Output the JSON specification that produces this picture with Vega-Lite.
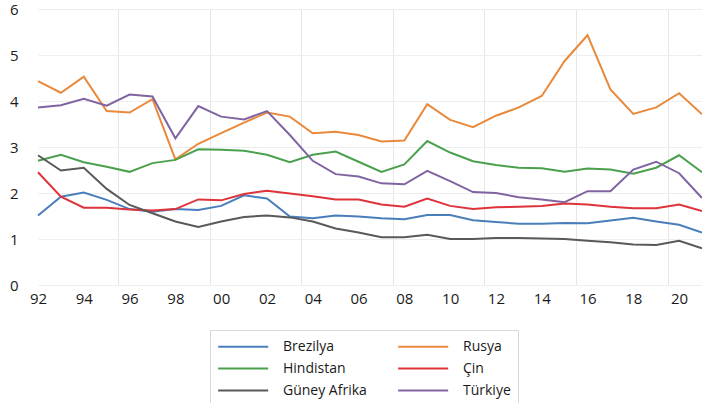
{
  "$schema": "https://vega.github.io/schema/vega-lite/v6.json",
  "autosize": "none",
  "width": 664,
  "height": 276,
  "padding": {"left": 38, "top": 9, "right": 0, "bottom": 118},
  "background": "white",
  "config": {
    "view": {"stroke": null},
    "font": "Open Sans"
  },
  "data": {
    "values": [
      {"yil": 1992, "Brezilya": 1.51, "Rusya": 4.43, "Hindistan": 2.70, "Çin": 2.45, "Güney Afrika": 2.82, "Türkiye": 3.86},
      {"yil": 1993, "Brezilya": 1.92, "Rusya": 4.18, "Hindistan": 2.83, "Çin": 1.92, "Güney Afrika": 2.49, "Türkiye": 3.91},
      {"yil": 1994, "Brezilya": 2.01, "Rusya": 4.53, "Hindistan": 2.67, "Çin": 1.68, "Güney Afrika": 2.55, "Türkiye": 4.05},
      {"yil": 1995, "Brezilya": 1.85, "Rusya": 3.78, "Hindistan": 2.57, "Çin": 1.68, "Güney Afrika": 2.09, "Türkiye": 3.90},
      {"yil": 1996, "Brezilya": 1.65, "Rusya": 3.75, "Hindistan": 2.46, "Çin": 1.64, "Güney Afrika": 1.74, "Türkiye": 4.14},
      {"yil": 1997, "Brezilya": 1.59, "Rusya": 4.04, "Hindistan": 2.65, "Çin": 1.62, "Güney Afrika": 1.56, "Türkiye": 4.10},
      {"yil": 1998, "Brezilya": 1.65, "Rusya": 2.73, "Hindistan": 2.72, "Çin": 1.65, "Güney Afrika": 1.38, "Türkiye": 3.19},
      {"yil": 1999, "Brezilya": 1.63, "Rusya": 3.07, "Hindistan": 2.95, "Çin": 1.86, "Güney Afrika": 1.26, "Türkiye": 3.89},
      {"yil": 2000, "Brezilya": 1.72, "Rusya": 3.30, "Hindistan": 2.94, "Çin": 1.84, "Güney Afrika": 1.38, "Türkiye": 3.66},
      {"yil": 2001, "Brezilya": 1.95, "Rusya": 3.53, "Hindistan": 2.92, "Çin": 1.98, "Güney Afrika": 1.48, "Türkiye": 3.60},
      {"yil": 2002, "Brezilya": 1.88, "Rusya": 3.75, "Hindistan": 2.83, "Çin": 2.05, "Güney Afrika": 1.51, "Türkiye": 3.78},
      {"yil": 2003, "Brezilya": 1.49, "Rusya": 3.66, "Hindistan": 2.67, "Çin": 1.99, "Güney Afrika": 1.47, "Türkiye": 3.26},
      {"yil": 2004, "Brezilya": 1.45, "Rusya": 3.30, "Hindistan": 2.83, "Çin": 1.93, "Güney Afrika": 1.38, "Türkiye": 2.70},
      {"yil": 2005, "Brezilya": 1.51, "Rusya": 3.33, "Hindistan": 2.90, "Çin": 1.86, "Güney Afrika": 1.23, "Türkiye": 2.41},
      {"yil": 2006, "Brezilya": 1.49, "Rusya": 3.26, "Hindistan": 2.68, "Çin": 1.86, "Güney Afrika": 1.14, "Türkiye": 2.36},
      {"yil": 2007, "Brezilya": 1.45, "Rusya": 3.12, "Hindistan": 2.46, "Çin": 1.75, "Güney Afrika": 1.04, "Türkiye": 2.21},
      {"yil": 2008, "Brezilya": 1.43, "Rusya": 3.14, "Hindistan": 2.62, "Çin": 1.70, "Güney Afrika": 1.04, "Türkiye": 2.19},
      {"yil": 2009, "Brezilya": 1.52, "Rusya": 3.93, "Hindistan": 3.13, "Çin": 1.88, "Güney Afrika": 1.09, "Türkiye": 2.48},
      {"yil": 2010, "Brezilya": 1.52, "Rusya": 3.59, "Hindistan": 2.88, "Çin": 1.72, "Güney Afrika": 1.00, "Türkiye": 2.26},
      {"yil": 2011, "Brezilya": 1.41, "Rusya": 3.43, "Hindistan": 2.69, "Çin": 1.65, "Güney Afrika": 1.00, "Türkiye": 2.02},
      {"yil": 2012, "Brezilya": 1.37, "Rusya": 3.68, "Hindistan": 2.61, "Çin": 1.69, "Güney Afrika": 1.02, "Türkiye": 2.00},
      {"yil": 2013, "Brezilya": 1.33, "Rusya": 3.86, "Hindistan": 2.55, "Çin": 1.70, "Güney Afrika": 1.02, "Türkiye": 1.91},
      {"yil": 2014, "Brezilya": 1.33, "Rusya": 4.11, "Hindistan": 2.54, "Çin": 1.72, "Güney Afrika": 1.01, "Türkiye": 1.86},
      {"yil": 2015, "Brezilya": 1.35, "Rusya": 4.87, "Hindistan": 2.46, "Çin": 1.77, "Güney Afrika": 1.00, "Türkiye": 1.80},
      {"yil": 2016, "Brezilya": 1.34, "Rusya": 5.43, "Hindistan": 2.53, "Çin": 1.75, "Güney Afrika": 0.96, "Türkiye": 2.04},
      {"yil": 2017, "Brezilya": 1.40, "Rusya": 4.25, "Hindistan": 2.51, "Çin": 1.70, "Güney Afrika": 0.93, "Türkiye": 2.04},
      {"yil": 2018, "Brezilya": 1.46, "Rusya": 3.72, "Hindistan": 2.42, "Çin": 1.67, "Güney Afrika": 0.88, "Türkiye": 2.51},
      {"yil": 2019, "Brezilya": 1.38, "Rusya": 3.86, "Hindistan": 2.55, "Çin": 1.67, "Güney Afrika": 0.87, "Türkiye": 2.68},
      {"yil": 2020, "Brezilya": 1.31, "Rusya": 4.17, "Hindistan": 2.82, "Çin": 1.75, "Güney Afrika": 0.96, "Türkiye": 2.43},
      {"yil": 2021, "Brezilya": 1.14, "Rusya": 3.71, "Hindistan": 2.45, "Çin": 1.61, "Güney Afrika": 0.80, "Türkiye": 1.89}
    ]
  },
  "transform": [
    {"fold": ["Brezilya", "Rusya", "Hindistan", "Çin", "Güney Afrika", "Türkiye"], "as": ["ulke", "deger"]}
  ],
  "mark": {"type": "line", "strokeWidth": 2, "clip": false},
  "encoding": {
    "x": {
      "field": "yil",
      "type": "quantitative",
      "scale": {"domain": [1992, 2021], "nice": false, "zero": false},
      "axis": {
        "title": null,
        "values": [1992, 1994, 1995.5, 1996, 1998, 1999.5, 2000, 2002, 2003.5, 2004, 2006, 2007.5, 2008, 2010, 2011.5, 2012, 2014, 2015.5, 2016, 2018, 2019.5, 2020],
        "labelExpr": "datum.value % 2 == 0 ? slice(toString(datum.value), 2) : ''",
        "domain": false,
        "ticks": false,
        "grid": true,
        "gridColor": "#E6E6E6",
        "gridOpacity": {"condition": {"test": "datum.value % 1 != 0", "value": 1}, "value": 0},
        "labelFontSize": 15,
        "labelColor": "#1a1a1a",
        "labelPadding": 6,
        "labelFlush": false
      }
    },
    "y": {
      "field": "deger",
      "type": "quantitative",
      "scale": {"domain": [0, 6], "nice": false},
      "axis": {
        "title": null,
        "values": [0, 1, 2, 3, 4, 5, 6],
        "domain": false,
        "ticks": false,
        "gridColor": "#EEEEEE",
        "labelFontSize": 15,
        "labelColor": "#1a1a1a",
        "labelPadding": 20
      }
    },
    "color": {
      "field": "ulke",
      "type": "nominal",
      "scale": {
        "domain": ["Brezilya", "Rusya", "Hindistan", "Çin", "Güney Afrika", "Türkiye"],
        "range": ["#4A7EBB", "#E8893B", "#4BA04E", "#DE333B", "#595959", "#8064A2"]
      },
      "legend": {
        "title": null,
        "orient": "none",
        "legendX": 172,
        "legendY": 321,
        "columns": 2,
        "direction": "horizontal",
        "symbolType": "M-1,0H5",
        "symbolSize": 278,
        "symbolStrokeWidth": 2,
        "labelFontSize": 14,
        "labelColor": "#1a1a1a",
        "labelOffset": 47,
        "columnPadding": 27,
        "rowPadding": 5,
        "padding": 7,
        "strokeColor": "#D9D9D9"
      }
    }
  }
}
